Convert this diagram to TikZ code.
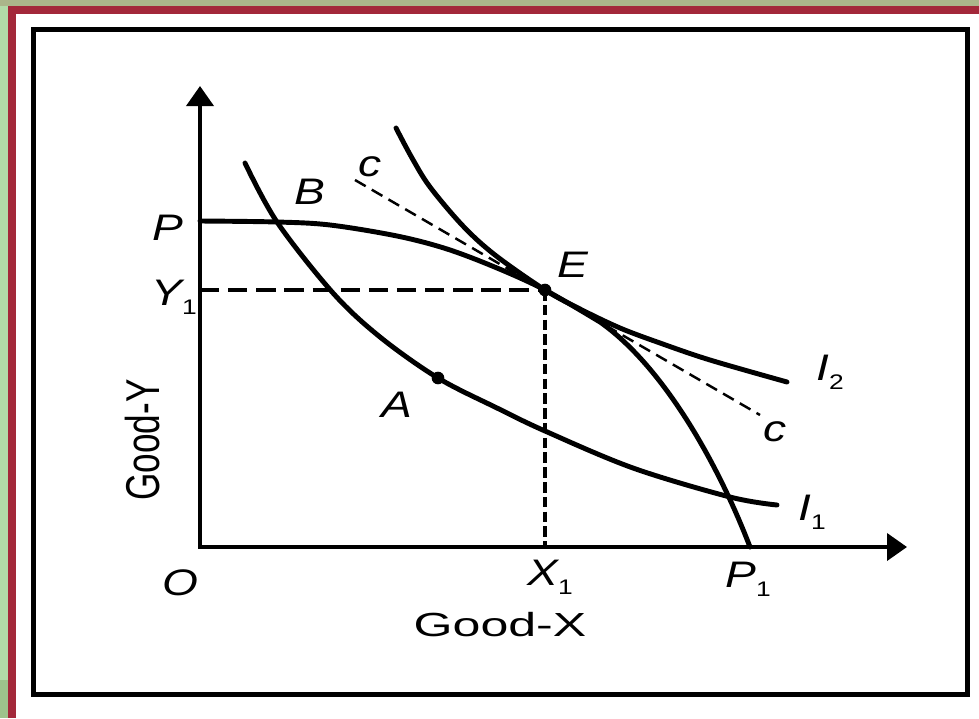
\documentclass[tikz,border=0pt]{standalone}
\usepackage{fontspec}
\setmainfont{Liberation Sans}
\usetikzlibrary{arrows.meta}
\definecolor{framered}{RGB}{163,40,58}
\definecolor{leafgreen}{RGB}{178,218,168}
\definecolor{darkleaf}{RGB}{157,195,140}
\definecolor{olivetop}{RGB}{171,181,138}
\newcommand{\idx}[1]{\raisebox{-0.45ex}{\fontsize{6}{7}\selectfont\upshape #1}}

\begin{document}
\begin{tikzpicture}[x=0.01cm,y=-0.01cm]
  \tikzset{
    curve/.style={line width=1.4pt, line cap=round, line join=round},
    axis/.style={line width=1.1pt, -{Triangle[length=0.2cm,width=0.27cm]}},
    guide/.style={line width=1.1pt, dash pattern=on 5.5pt off 2.5pt},
    tangent/.style={line width=0.7pt, dash pattern=on 3.5pt off 2pt},
    letter/.style={font=\fontsize{10.5}{12}\selectfont\itshape, xscale=1.25, transform shape, inner sep=0pt},
    title/.style={font=\fontsize{9.5}{11}\selectfont, xscale=1.5, transform shape, inner sep=0pt}
  }

  % frame
  \useasboundingbox (0,0) rectangle (979,718);
  \fill[white] (0,0) rectangle (979,718);
  \fill[leafgreen] (0,0) rectangle (8,718);
  \fill[darkleaf] (0,680) rectangle (8,718);
  \fill[olivetop] (0,0) rectangle (979,6);
  \fill[framered] (8,6) rectangle (979,14);
  \fill[framered] (8,6) rectangle (16,718);
  \draw[line width=1.55pt] (33.5,29.5) rectangle (967.5,694.5);

  % points
  \coordinate (O) at (200,547);
  \coordinate (ytop) at (200,86);
  \coordinate (xend) at (907,547);
  \coordinate (P) at (200,221);
  \coordinate (Y1) at (200,290);
  \coordinate (E) at (545,290);
  \coordinate (X1) at (545,547);
  \coordinate (P1) at (750,547);
  \coordinate (A) at (438,378);
  \coordinate (ctop) at (355,180);
  \coordinate (cbot) at (760,415);

  % axes
  \draw[axis] ([yshift=-0.55pt]O) -- (ytop);
  \draw[axis] (O) -- (xend);

  % guides
  \draw[guide] (Y1) -- (E);
  \draw[guide, dash pattern=on 3pt off 1.2pt] (E) -- (X1);
  \draw[tangent] (ctop) -- (cbot);

  % production possibility curve
  \draw[curve] plot[smooth, tension=0.55] coordinates {(P) (277,222) (330,225) (397,236) (447,249) (497,268) (E) (600,322)}
    .. controls (660,364) and (715,456) .. (P1);
  % indifference curves
  \draw[curve] plot[smooth, tension=0.55] coordinates {(396,128) (412,158) (430,187) (463,226) (495,255) (E) (580,309) (620,328) (660,343) (710,360) (787,382)};
  \draw[curve] plot[smooth, tension=0.55] coordinates {(245,163) (277,222) (333,293) (380,337) (A) (497,408) (545,431) (633,468) (730,497) (777,505)};

  \fill (E) circle (1.8pt);
  \fill (A) circle (1.8pt);

  % labels
  \node[letter] (Plbl) at (168,228) {P};
  \node[letter] (Ylbl) at (174,297) {Y\idx{1}};
  \node[letter] (Blbl) at (310,192) {B};
  \node[letter] (ctoplbl) at (370,167) {c};
  \node[letter] (Elbl) at (573,265) {E};
  \node[letter] (Itwolbl) at (830,372) {I\idx{2}};
  \node[letter] (cbotlbl) at (775,432) {c};
  \node[letter] (Ionelbl) at (812,512) {I\idx{1}};
  \node[letter] (Albl) at (397,405) {A};
  \node[letter] (Olbl) at (180,583) {O};
  \node[letter] (Xlbl) at (550,577) {X\idx{1}};
  \node[letter] (Ponelbl) at (748,579) {P\idx{1}};
  \node[title] (xtitle) at (500,625) {Good-X};
  \node[font=\fontsize{10}{12}\selectfont, inner sep=0pt, rotate=90] (ytitle) at (143,440) {\scalebox{1}[1.35]{Good-Y}};
\end{tikzpicture}
\end{document}
